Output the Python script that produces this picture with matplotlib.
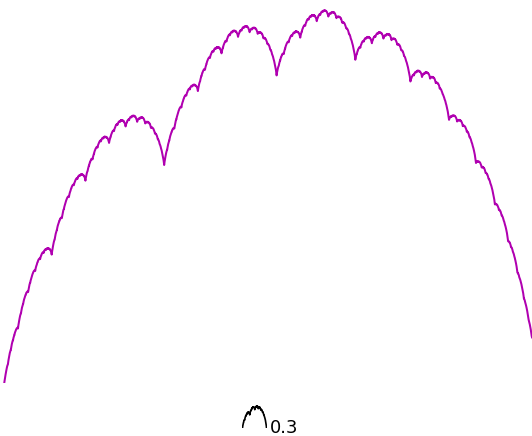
import numpy as np
import matplotlib
matplotlib.use("Agg")
import matplotlib.pyplot as plt

# Self-affine arch: the interval is split at SPLIT, each piece carries a tent
# of height TENT_HEIGHT and a copy of the whole curve scaled by its gain.
SPLIT = 0.3
LEFT_GAIN = 0.3
RIGHT_GAIN = 0.7
TENT_HEIGHT = 1.0
LABEL = "0.3"

LINE_COLOR = "#b000b0"


def arch(u, depth=90):
    u = np.asarray(u, dtype=float).copy()
    total = np.zeros_like(u)
    weight = np.ones_like(u)
    for _ in range(depth):
        left = u < SPLIT
        tent = np.where(left, u / SPLIT, (1.0 - u) / (1.0 - SPLIT))
        total += weight * TENT_HEIGHT * tent
        weight = weight * np.where(left, LEFT_GAIN, RIGHT_GAIN)
        u = np.where(left, u / SPLIT, (u - SPLIT) / (1.0 - SPLIT))
    return total


W, H = 532, 436
fig = plt.figure(figsize=(W / 100, H / 100), dpi=100)
fig.patch.set_facecolor("white")

# main plot region (pixels): curve drawn in an axes spanning the upper part
x_left_px, x_span_px = 3.5, 535.5
y_base_px, unit_px = 389.0, 224.0
plot_bottom_px = 383.0

ax = fig.add_axes([0, (H - plot_bottom_px) / H, 1, plot_bottom_px / H])
u = np.linspace(0.0, 1.0, 8001)
ax.plot(u, arch(u), color=LINE_COLOR, lw=1.45, solid_joinstyle="round")
ax.set_xlim(-x_left_px / x_span_px, (W - x_left_px) / x_span_px)
ax.set_ylim((y_base_px - plot_bottom_px) / unit_px, y_base_px / unit_px)
ax.axis("off")

# legend-like label: small black copy of the arch with the split value
icon = fig.add_axes([242 / W, (H - 428) / H, 25 / W, 23 / H])
ui = np.linspace(0.0, 1.0, 1501)
icon.plot(ui, arch(ui), color="black", lw=1.2)
icon.set_xlim(-0.02, 1.02)
icon.set_ylim(0, arch(ui).max() * 1.04)
icon.axis("off")

fig.text(270 / W, (H - 433) / H, LABEL, fontsize=13, family="DejaVu Sans",
         ha="left", va="baseline", color="black")

fig.savefig("out.png", dpi=100, facecolor="white")
